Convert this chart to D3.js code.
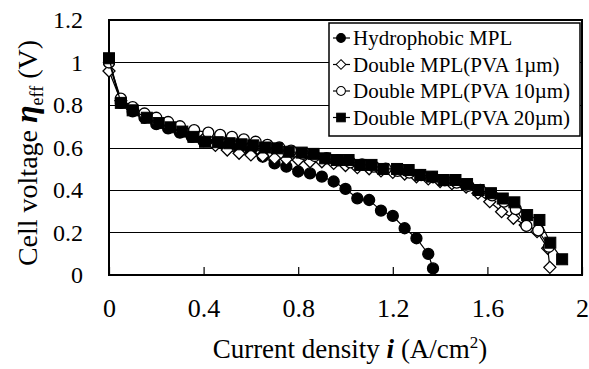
<!DOCTYPE html>
<html>
<head>
<meta charset="utf-8">
<script src="https://cdn.jsdelivr.net/npm/d3@7"></script>
<style>
  body { margin: 0; background: #fff; }
</style>
</head>
<body>
<div id="chart"></div>
<script>
// series data (current density A/cm2, cell voltage V)
var seriesNames = ["Hydrophobic MPL", "Double MPL(PVA 1\u00b5m)", "Double MPL(PVA 10\u00b5m)", "Double MPL(PVA 20\u00b5m)"];

var hydroX = [0, 0.05, 0.10, 0.15, 0.20, 0.25, 0.30, 0.35, 0.40, 0.45, 0.50, 0.55, 0.60, 0.65, 0.70, 0.75, 0.80, 0.85, 0.90, 0.95, 1.00, 1.05, 1.10, 1.15, 1.20, 1.25, 1.30, 1.35, 1.37];
var hydroY = [1.00, 0.81, 0.77, 0.74, 0.71, 0.69, 0.67, 0.65, 0.63, 0.62, 0.605, 0.595, 0.585, 0.557, 0.525, 0.51, 0.487, 0.478, 0.463, 0.44, 0.405, 0.361, 0.353, 0.303, 0.278, 0.22, 0.173, 0.099, 0.031];

var pva1X = [0, 0.05, 0.10, 0.15, 0.20, 0.25, 0.30, 0.35, 0.40, 0.45, 0.50, 0.55, 0.60, 0.65, 0.70, 0.75, 0.80, 0.85, 0.90, 0.95, 1.00, 1.05, 1.10, 1.15, 1.20, 1.25, 1.30, 1.35, 1.40, 1.45, 1.51, 1.56, 1.61, 1.66, 1.71, 1.76, 1.81, 1.855, 1.864];
var pva1Y = [0.96, 0.82, 0.78, 0.75, 0.72, 0.70, 0.68, 0.66, 0.64, 0.61, 0.588, 0.573, 0.565, 0.56, 0.55, 0.545, 0.541, 0.533, 0.533, 0.525, 0.515, 0.505, 0.50, 0.49, 0.483, 0.475, 0.462, 0.452, 0.44, 0.43, 0.414, 0.385, 0.345, 0.298, 0.267, 0.235, 0.204, 0.126, 0.036];

var pva10X = [0, 0.05, 0.10, 0.15, 0.20, 0.25, 0.30, 0.36, 0.42, 0.47, 0.52, 0.57, 0.62, 0.67, 0.72, 0.77, 0.82, 0.87, 0.92, 0.97, 1.02, 1.07, 1.12, 1.17, 1.22, 1.27, 1.32, 1.37, 1.42, 1.47, 1.52, 1.57, 1.62, 1.67, 1.72, 1.765, 1.815, 1.86];
var pva10Y = [1.00, 0.83, 0.79, 0.76, 0.74, 0.72, 0.70, 0.682, 0.67, 0.659, 0.65, 0.638, 0.627, 0.612, 0.60, 0.585, 0.57, 0.56, 0.55, 0.54, 0.53, 0.52, 0.51, 0.50, 0.49, 0.482, 0.47, 0.46, 0.445, 0.435, 0.42, 0.40, 0.375, 0.345, 0.31, 0.231, 0.21, 0.133];

var pva20X = [0, 0.05, 0.10, 0.16, 0.21, 0.26, 0.31, 0.357, 0.406, 0.46, 0.51, 0.56, 0.61, 0.66, 0.71, 0.76, 0.815, 0.865, 0.914, 0.964, 1.013, 1.062, 1.11, 1.16, 1.218, 1.267, 1.316, 1.366, 1.415, 1.465, 1.514, 1.563, 1.615, 1.665, 1.714, 1.768, 1.82, 1.866, 1.916];
var pva20Y = [1.02, 0.81, 0.775, 0.74, 0.715, 0.695, 0.675, 0.65, 0.627, 0.625, 0.62, 0.615, 0.61, 0.60, 0.596, 0.58, 0.576, 0.57, 0.549, 0.541, 0.541, 0.518, 0.518, 0.499, 0.499, 0.494, 0.471, 0.463, 0.447, 0.447, 0.428, 0.40, 0.385, 0.36, 0.342, 0.282, 0.259, 0.152, 0.074];

var xTicks = [0, 0.4, 0.8, 1.2, 1.6, 2];
var yTicks = [0, 0.2, 0.4, 0.6, 0.8, 1, 1.2];

var FONT = "Liberation Serif";

// set the dimensions and margins of the graph
var W = 589, H = 369;
var margin = {top: 20, right: 7, bottom: 94, left: 109},
    width = W - margin.left - margin.right,
    height = H - margin.top - margin.bottom;

var x = d3.scaleLinear().domain([0, 2]).range([0, width]);
var y = d3.scaleLinear().domain([0, 1.2]).range([height, 0]);

var svg = d3.select("#chart").append("svg")
    .attr("width", W)
    .attr("height", H)
    .attr("font-family", FONT);

var g = svg.append("g")
    .attr("transform", "translate(" + margin.left + "," + margin.top + ")");

// horizontal gridlines
g.append("g")
    .selectAll("line")
    .data(yTicks.slice(1, -1))
    .enter().append("line")
    .attr("x1", 0).attr("x2", width)
    .attr("y1", function(d) { return Math.round(y(d)) + 0.5; })
    .attr("y2", function(d) { return Math.round(y(d)) + 0.5; })
    .attr("stroke", "#000").attr("stroke-width", 1.2);

// x axis ticks (inside) and labels
var xAxis = d3.axisBottom(x).tickValues(xTicks).tickSizeInner(-8).tickSizeOuter(0)
    .tickPadding(24).tickFormat(function(d) { return d3.format("")(d); });
var gx = g.append("g")
    .attr("transform", "translate(0," + height + ")")
    .call(xAxis)
    .attr("font-family", FONT);
gx.select(".domain").remove();
gx.selectAll("line").attr("stroke", "#000").attr("stroke-width", 1.2);
gx.selectAll("text")
    .attr("font-family", FONT)
    .style("font-family", FONT)
    .attr("font-size", 26).attr("dy", "0.71em").attr("fill", "#000");

// y axis labels
var yAxis = d3.axisLeft(y).tickValues(yTicks).tickSize(0).tickPadding(26)
    .tickFormat(function(d) { return d3.format("")(d); });
var gy = g.append("g").call(yAxis).attr("font-family", FONT);
gy.select(".domain").remove();
gy.selectAll("text")
    .attr("font-family", FONT)
    .style("font-family", FONT)
    .attr("font-size", 24).attr("fill", "#000");

// plot frame
g.append("rect")
    .attr("x", 0).attr("y", 0)
    .attr("width", width).attr("height", height)
    .attr("fill", "none").attr("stroke", "#000").attr("stroke-width", 2);

// marker drawing
function drawMarker(sel, type) {
  if (type === "circleFill" || type === "circleOpen") {
    sel.append("circle").attr("r", 5.5)
      .attr("fill", type === "circleFill" ? "#000" : "#fff")
      .attr("stroke", "#000").attr("stroke-width", 1.3);
  } else if (type === "diamond") {
    sel.append("path").attr("d", "M0,-6L6,0L0,6L-6,0Z")
      .attr("fill", "#fff").attr("stroke", "#000").attr("stroke-width", 1.3);
  } else {
    sel.append("rect").attr("x", -5.5).attr("y", -5.5).attr("width", 11).attr("height", 11)
      .attr("fill", "#000").attr("stroke", "#000").attr("stroke-width", 1);
  }
}

var allSeries = [
  {xs: hydroX, ys: hydroY, marker: "circleFill"},
  {xs: pva1X, ys: pva1Y, marker: "diamond"},
  {xs: pva10X, ys: pva10Y, marker: "circleOpen"},
  {xs: pva20X, ys: pva20Y, marker: "square"}
];

var line = d3.line()
    .x(function(d) { return x(d[0]); })
    .y(function(d) { return y(d[1]); });

allSeries.forEach(function(s) {
  var pts = s.xs.map(function(v, i) { return [v, s.ys[i]]; });
  g.append("path")
    .datum(pts)
    .attr("d", line)
    .attr("fill", "none").attr("stroke", "#000").attr("stroke-width", 1.2);
  g.append("g").selectAll("g")
    .data(pts)
    .enter().append("g")
    .attr("transform", function(d) { return "translate(" + x(d[0]) + "," + y(d[1]) + ")"; })
    .each(function() { drawMarker(d3.select(this), s.marker); });
});

// legend
var legend = svg.append("g").attr("transform", "translate(329,23)");
legend.append("rect")
    .attr("width", 251).attr("height", 113)
    .attr("fill", "#fff").attr("stroke", "#000").attr("stroke-width", 1.5);
seriesNames.forEach(function(name, i) {
  var row = legend.append("g").attr("transform", "translate(0," + (15 + i * 26.5) + ")");
  row.append("line").attr("x1", 4).attr("x2", 21).attr("y1", 0).attr("y2", 0)
    .attr("stroke", "#000").attr("stroke-width", 1.2);
  var m = row.append("g").attr("transform", "translate(12,0) scale(0.8)");
  drawMarker(m, allSeries[i].marker);
  row.append("text").attr("x", 24).attr("y", 0).attr("dy", "0.35em")
    .attr("font-family", FONT).attr("font-size", 21).text(name);
});

// axis titles
var xt = svg.append("text")
    .attr("x", 350).attr("y", 358)
    .attr("text-anchor", "middle").attr("font-family", FONT).attr("font-size", 27);
xt.append("tspan").attr("font-family", FONT).text("Current density ");
xt.append("tspan").attr("font-family", FONT).attr("font-style", "italic").attr("font-weight", "bold").text("i");
xt.append("tspan").attr("font-family", FONT).text(" (A/cm");
xt.append("tspan").attr("font-family", FONT).attr("font-size", 17).attr("dy", -10).text("2");
xt.append("tspan").attr("font-family", FONT).attr("dy", 10).text(")");

var yt = svg.append("text")
    .attr("transform", "translate(37,153) rotate(-90)")
    .attr("text-anchor", "middle").attr("font-family", FONT).attr("font-size", 28);
yt.append("tspan").attr("font-family", FONT).text("Cell voltage ");
yt.append("tspan").attr("font-family", FONT).attr("font-style", "italic").attr("font-weight", "bold").attr("font-size", 32).text("\u03b7");
yt.append("tspan").attr("font-family", FONT).attr("font-size", 18).attr("dy", 6).text("eff");
yt.append("tspan").attr("font-family", FONT).attr("dy", -6).text(" (V)");
</script>
</body>
</html>
